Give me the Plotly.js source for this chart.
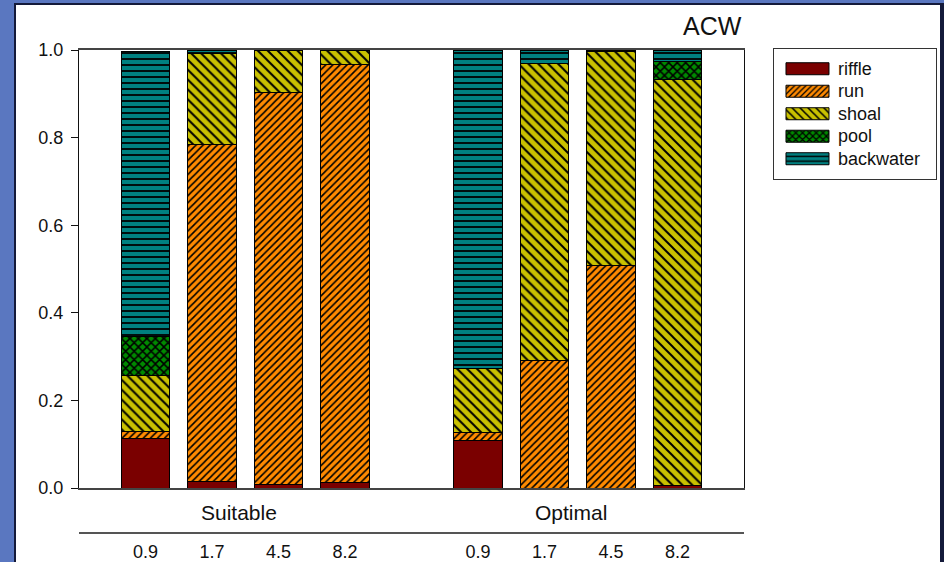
<!DOCTYPE html>
<html>
<head>
<meta charset="utf-8">
<script src="https://cdn.plot.ly/plotly-3.0.1.min.js"></script>
<style>
  html, body { margin: 0; padding: 0; background: #5a77c0; width: 944px; height: 562px; overflow: hidden; }
  #panel { position: absolute; left: 14px; top: 3px; width: 930px; height: 562px; background: #ffffff; border: 2px solid #141a3a; box-sizing: border-box; border-bottom: none; border-right-width: 4px; }
  #chart { position: absolute; left: 0; top: 0; width: 944px; height: 562px; }
</style>
</head>
<body>
<div id="panel"></div>
<div id="chart"></div>
<script>
// ---- data ----
var groups = ['Suitable', 'Optimal'];
var thresholds = ['0.9', '1.7', '4.5', '8.2'];
var habitats = ['riffle', 'run', 'shoal', 'pool', 'backwater'];
// order of bars: Suitable 0.9,1.7,4.5,8.2 then Optimal 0.9,1.7,4.5,8.2
var riffle    = [0.112, 0.015, 0.008, 0.013, 0.108, 0.000, 0.000, 0.006];
var run       = [0.018, 0.770, 0.895, 0.953, 0.019, 0.291, 0.507, 0.000];
var shoal     = [0.128, 0.206, 0.097, 0.034, 0.145, 0.679, 0.489, 0.927];
var pool      = [0.089, 0.000, 0.000, 0.000, 0.000, 0.000, 0.000, 0.040];
var backwater = [0.650, 0.009, 0.000, 0.000, 0.726, 0.030, 0.004, 0.025];
var yTicks = [0, 0.2, 0.4, 0.6, 0.8, 1.0];
var chartTitle = 'ACW';

// ---- styling ----
var series = [riffle, run, shoal, pool, backwater];
var colors = ['#7a0000', '#ff8a00', '#c9c100', '#008a00', '#008080'];
var shapes = ['', '/', '\\', 'x', '-'];
var psize  = [8, 5, 7, 6, 6];
var psolid = [0.3, 0.32, 0.28, 0.45, 0.3];

var xpos = [], xlabels = [];
groups.forEach(function (g, gi) {
  thresholds.forEach(function (t, ti) {
    xpos.push(gi * (thresholds.length + 1) + ti);
    xlabels.push(t);
  });
});

var traces = habitats.map(function (name, i) {
  return {
    type: 'bar',
    name: name,
    x: xpos,
    y: series[i],
    width: 0.723,
    marker: {
      color: colors[i],
      line: { color: '#000000', width: 1 },
      pattern: {
        shape: shapes[i],
        fgcolor: '#000000',
        bgcolor: colors[i],
        size: psize[i],
        solidity: psolid[i],
        fillmode: 'replace'
      }
    },
    hoverinfo: 'name+y'
  };
});

var font = 'Liberation Sans, Arial, Helvetica, sans-serif';
var annotations = [{
  text: chartTitle, xref: 'paper', yref: 'paper', x: 1.0, y: 1.0548,
  xanchor: 'right', yanchor: 'middle', showarrow: false,
  font: { family: font, size: 25, color: '#111' }
}];
groups.forEach(function (g, gi) {
  var start = gi * (thresholds.length + 1);
  annotations.push({
    text: g, xref: 'x', yref: 'paper',
    x: start + (thresholds.length - 1) / 2 - 0.1, y: -0.057,
    xanchor: 'center', yanchor: 'middle', showarrow: false,
    font: { family: font, size: 21, color: '#111' }
  });
});

var layout = {
  width: 944, height: 562,
  margin: { l: 79, r: 200, t: 50, b: 74, pad: 0 },
  paper_bgcolor: 'rgba(0,0,0,0)',
  plot_bgcolor: '#ffffff',
  barmode: 'stack',
  font: { family: font, size: 18, color: '#111' },
  xaxis: {
    range: [-1, 9],
    tickvals: xpos, ticktext: xlabels,
    ticks: '', showgrid: false, zeroline: false,
    showline: true, linecolor: '#444', linewidth: 2, mirror: true,
    ticklabelstandoff: 46,
    tickfont: { family: font, size: 18, color: '#111' },
    fixedrange: true
  },
  yaxis: {
    range: [0, 1], tickvals: yTicks, tickformat: '.1f',
    ticks: 'outside', ticklen: 7, tickcolor: '#111', tickwidth: 1,
    showgrid: false, zeroline: false,
    showline: true, linecolor: '#111', linewidth: 1, mirror: true,
    ticklabelstandoff: 4,
    tickfont: { family: font, size: 18, color: '#111' },
    fixedrange: true
  },
  shapes: [{
    type: 'line', xref: 'paper', yref: 'paper',
    x0: 0, x1: 1, y0: -0.1027, y1: -0.1027,
    line: { color: '#555', width: 2 }
  }],
  annotations: annotations,
  showlegend: true,
  legend: {
    x: 1.0436, y: 1.0046, xanchor: 'left', yanchor: 'top',
    traceorder: 'normal',
    bordercolor: '#333', borderwidth: 1, bgcolor: '#ffffff',
    itemwidth: 54,
    font: { family: font, size: 15, color: '#111' }
  }
};

Plotly.newPlot('chart', traces, layout, { displayModeBar: false, staticPlot: true }).then(function (gd) {
  gd.querySelectorAll('.legend .traces .legendpoints path').forEach(function (p) {
    p.setAttribute('d', 'M23,6H-20V-6H23Z');
  });
  gd.querySelectorAll('.legend .traces text.legendtext').forEach(function (t) {
    t.style.fontSize = '18px';
  });
  gd.querySelectorAll('.legend .traces').forEach(function (g) {
    var tr = g.getAttribute('transform') || '';
    g.setAttribute('transform', tr + ' translate(0,3.5)');
  });
  gd.querySelectorAll('.legend [clip-path]').forEach(function (el) {
    el.removeAttribute('clip-path');
  });
  var bg = gd.querySelector('.legend rect.bg');
  if (bg) {
    bg.setAttribute('width', '163');
    bg.setAttribute('height', '131');
  }
});
</script>
</body>
</html>
